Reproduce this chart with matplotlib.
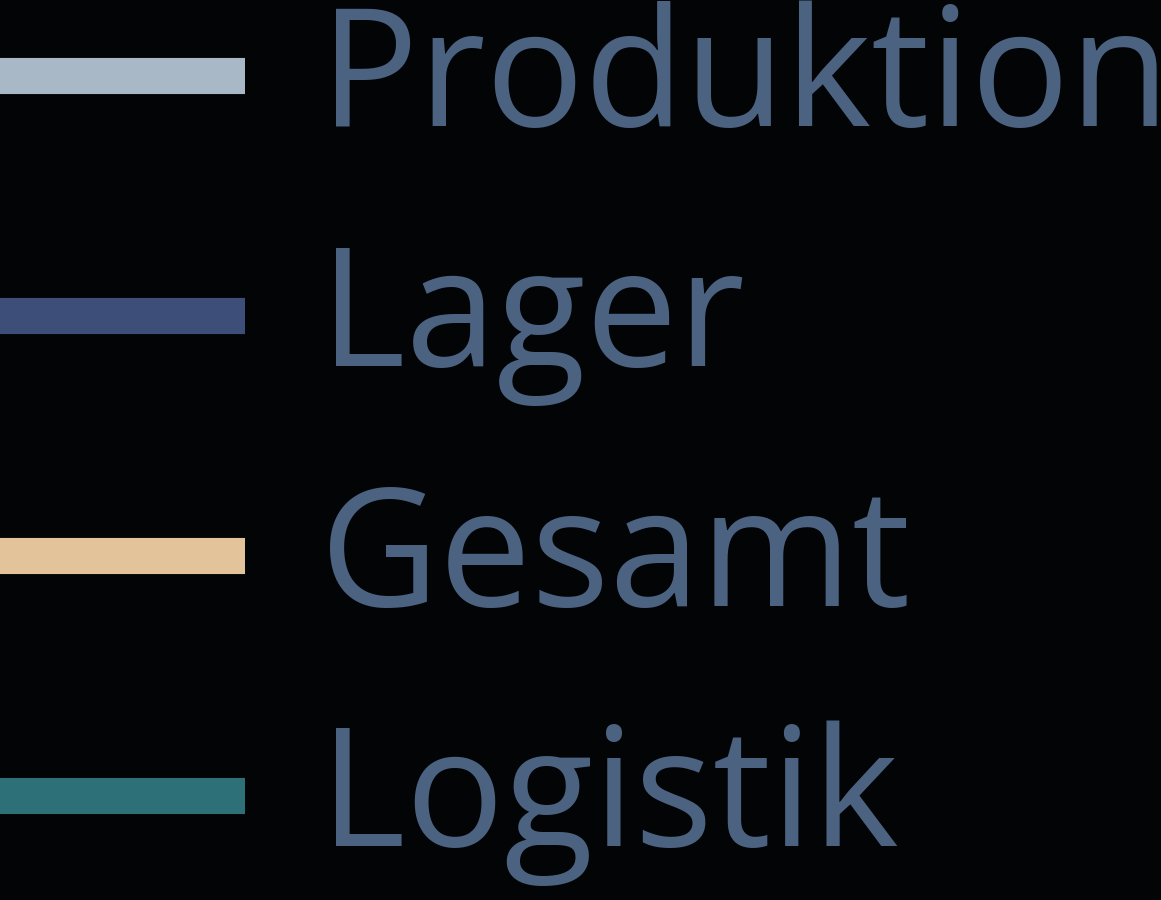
import matplotlib
matplotlib.use("Agg")
import matplotlib.pyplot as plt
from matplotlib.lines import Line2D

# legend entries
labels = ["Produktion", "Lager", "Gesamt", "Logistik"]
line_colors = ["#a9b8c6", "#3d4f78", "#e3c49a", "#2e7078"]

BG = "#020406"
TEXT_COLOR = "#4b6281"

fig = plt.figure(figsize=(11.61, 9), dpi=100, facecolor=BG)

handles = [Line2D([], [], color=c, linewidth=26, solid_capstyle="butt") for c in line_colors]

leg = fig.legend(
    handles, labels,
    loc="upper left",
    bbox_to_anchor=(-0.005, 1.0),
    frameon=False,
    prop={"family": ["Open Sans", "DejaVu Sans"], "size": 118},
    labelcolor=TEXT_COLOR,
    handlelength=1.53,
    handleheight=0.4,
    handletextpad=0.46,
    labelspacing=0.455,
    borderpad=0,
    borderaxespad=0,
)

fig.savefig("out.png", dpi=100, facecolor=BG)
plt.close(fig)
